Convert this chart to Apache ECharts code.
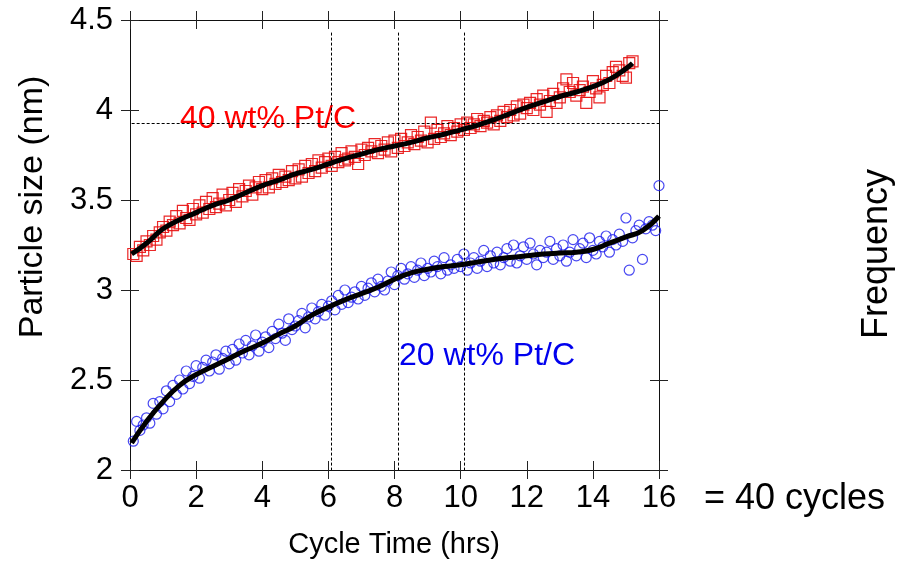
<!DOCTYPE html>
<html>
<head>
<meta charset="utf-8">
<script src="https://cdn.jsdelivr.net/npm/echarts@6/dist/echarts.min.js"></script>
<style>
html,body{margin:0;padding:0;background:#fff;}
#chart{width:897px;height:562px;}
</style>
</head>
<body>
<div id="chart"></div>
<script>
// ---- data ----
const hours = [
 0.1,0.2,0.3,0.4,0.5,0.6,0.7,0.8,0.9,1.0,
 1.1,1.2,1.3,1.4,1.5,1.6,1.7,1.8,1.9,2.0,
 2.1,2.2,2.3,2.4,2.5,2.6,2.7,2.8,2.9,3.0,
 3.1,3.2,3.3,3.4,3.5,3.6,3.7,3.8,3.9,4.0,
 4.1,4.2,4.3,4.4,4.5,4.6,4.7,4.8,4.9,5.0,
 5.1,5.2,5.3,5.4,5.5,5.6,5.7,5.8,5.9,6.0,
 6.1,6.2,6.3,6.4,6.5,6.6,6.7,6.8,6.9,7.0,
 7.1,7.2,7.3,7.4,7.5,7.6,7.7,7.8,7.9,8.0,
 8.1,8.2,8.3,8.4,8.5,8.6,8.7,8.8,8.9,9.0,
 9.1,9.2,9.3,9.4,9.5,9.6,9.7,9.8,9.9,10.0,
 10.1,10.2,10.3,10.4,10.5,10.6,10.7,10.8,10.9,11.0,
 11.1,11.2,11.3,11.4,11.5,11.6,11.7,11.8,11.9,12.0,
 12.1,12.2,12.3,12.4,12.5,12.6,12.7,12.8,12.9,13.0,
 13.1,13.2,13.3,13.4,13.5,13.6,13.7,13.8,13.9,14.0,
 14.1,14.2,14.3,14.4,14.5,14.6,14.7,14.8,14.9,15.0,
 15.1,15.2,15.3,15.4,15.5,15.6,15.7,15.8,15.9,16.0
];
// 40 wt% Pt/C particle size (nm), first 152 time points
const size40 = [
 3.20,3.19,3.24,3.22,3.27,3.25,3.30,3.28,3.32,3.35,
 3.33,3.38,3.36,3.41,3.37,3.44,3.40,3.39,3.45,3.42,
 3.47,3.43,3.49,3.45,3.51,3.46,3.48,3.53,3.47,3.50,
 3.54,3.49,3.56,3.52,3.55,3.58,3.53,3.57,3.60,3.56,
 3.61,3.57,3.62,3.59,3.64,3.60,3.63,3.61,3.66,3.62,
 3.67,3.63,3.69,3.65,3.70,3.66,3.72,3.68,3.71,3.73,
 3.69,3.74,3.71,3.76,3.72,3.73,3.77,3.74,3.70,3.78,
 3.75,3.79,3.77,3.81,3.76,3.80,3.78,3.82,3.77,3.83,
 3.79,3.84,3.80,3.82,3.86,3.81,3.85,3.83,3.88,3.82,
 3.93,3.84,3.89,3.85,3.87,3.91,3.86,3.90,3.88,3.92,
 3.89,3.93,3.90,3.92,3.95,3.91,3.94,3.93,3.96,3.92,
 3.97,3.94,3.99,3.96,4.00,3.97,4.02,3.98,4.03,4.01,
 4.04,4.00,4.06,4.03,4.08,3.99,4.05,4.09,4.04,4.07,
 4.12,4.17,4.10,4.15,4.08,4.11,4.13,4.04,4.10,4.16,
 4.12,4.07,4.14,4.19,4.15,4.21,4.24,4.22,4.19,4.18,
 4.26,4.27
];
// 20 wt% Pt/C particle size (nm), all 160 time points
const size20 = [
 2.16,2.27,2.22,2.25,2.29,2.26,2.37,2.31,2.38,2.34,
 2.44,2.38,2.47,2.42,2.50,2.45,2.55,2.48,2.52,2.58,
 2.51,2.57,2.61,2.55,2.60,2.64,2.56,2.62,2.66,2.59,
 2.67,2.61,2.70,2.65,2.72,2.64,2.69,2.75,2.66,2.71,
 2.74,2.68,2.77,2.73,2.81,2.76,2.72,2.84,2.78,2.80,
 2.83,2.87,2.79,2.85,2.90,2.84,2.88,2.92,2.86,2.91,
 2.94,2.89,2.97,2.92,3.00,2.93,2.96,2.99,2.95,3.02,
 2.97,3.01,3.04,2.99,3.06,3.02,3.00,3.05,3.10,3.03,
 3.08,3.12,3.06,3.09,3.13,3.07,3.11,3.15,3.08,3.12,
 3.10,3.16,3.13,3.09,3.18,3.11,3.14,3.12,3.17,3.13,
 3.20,3.11,3.15,3.18,3.12,3.16,3.22,3.13,3.19,3.15,
 3.21,3.14,3.18,3.23,3.16,3.25,3.15,3.19,3.24,3.17,
 3.26,3.20,3.14,3.22,3.18,3.21,3.27,3.17,3.23,3.19,
 3.25,3.16,3.21,3.28,3.19,3.23,3.26,3.18,3.29,3.22,
 3.20,3.27,3.24,3.30,3.21,3.28,3.25,3.31,3.27,3.40,
 3.11,3.29,3.33,3.36,3.17,3.34,3.38,3.36,3.33,3.58
];
// fitted trend curves
const fitHours40 = [0.05,0.5,1,1.5,2,2.5,3,3.5,4,4.5,5,5.5,6,6.5,7,7.5,8,8.5,9,9.5,10,10.5,11,11.5,12,12.5,13,13.5,14,14.5,15,15.2];
const fit40 = [3.20,3.26,3.34,3.39,3.43,3.47,3.50,3.54,3.58,3.61,3.645,3.67,3.70,3.73,3.755,3.78,3.80,3.82,3.845,3.865,3.89,3.915,3.945,3.98,4.015,4.045,4.075,4.10,4.13,4.17,4.23,4.26];
const fitHours20 = [0.05,0.5,1,1.5,2,2.5,3,3.5,4,4.5,5,5.5,6,6.5,7,7.5,8,8.5,9,9.5,10,10.5,11,11.5,12,12.5,13,13.5,14,14.5,15,15.5,16];
const fit20 = [2.15,2.27,2.38,2.47,2.53,2.575,2.62,2.665,2.705,2.755,2.80,2.86,2.905,2.945,2.98,3.015,3.06,3.095,3.115,3.13,3.14,3.155,3.17,3.18,3.19,3.20,3.205,3.21,3.225,3.26,3.295,3.33,3.41];
// reference lines
const refHours = [6.1, 8.1, 10.1];
const refSize = 3.926;
const xTicks = {min: 0, max: 16, interval: 2};
const yTicks = {min: 2, max: 4.5, interval: 0.5};

// ---- chart ----
const FONT = 'Liberation Sans, Arial, sans-serif';
const chart = echarts.init(document.getElementById('chart'));
const zip = (xs, ys) => ys.map((v, i) => [xs[i], v]);

function xAx(pos, inside, labels){
  return {type:'value', position:pos, min:xTicks.min, max:xTicks.max, interval:xTicks.interval,
    axisLine:{show:true, onZero:false, lineStyle:{color:'#111', width:1}},
    axisTick:{show:true, inside:inside, length:9, lineStyle:{color:'#222', width:1}},
    axisLabel:{show:labels, fontFamily:FONT, fontSize:31, color:'#000', margin:13},
    splitLine:{show:false}};
}
function yAx(pos, inside, labels){
  return {type:'value', position:pos, min:yTicks.min, max:yTicks.max, interval:yTicks.interval,
    axisLine:{show:true, onZero:false, lineStyle:{color:'#111', width:1}},
    axisTick:{show:true, inside:inside, length:9, lineStyle:{color:'#222', width:1}},
    axisLabel:{show:labels, fontFamily:FONT, fontSize:31, color:'#000', margin:17},
    splitLine:{show:false}};
}

const refLines = refHours.map(h => [{coord:[h, 4.43]}, {coord:[h, yTicks.min]}]);
refLines.push([{coord:[0.05, refSize]}, {coord:[16, refSize]}]);

chart.setOption({
  animation:false,
  grid:{left:130, right:238, top:20, bottom:92},
  xAxis:[xAx('bottom', false, true), xAx('bottom', true, false), xAx('top', true, false), xAx('top', false, false)],
  yAxis:[yAx('left', false, true), yAx('left', true, false), yAx('right', true, false), yAx('right', false, false)],
  series:[
    {type:'scatter', name:'40 wt% Pt/C', data:zip(hours, size40), symbol:'rect', symbolSize:11,
     itemStyle:{color:'transparent', borderColor:'#e81010', borderWidth:1.2, opacity:0.9},
     markLine:{silent:true, symbol:['none','none'], label:{show:false},
       lineStyle:{color:'#000', type:[3,2], width:1}, data:refLines}},
    {type:'scatter', name:'20 wt% Pt/C', data:zip(hours, size20), symbol:'circle', symbolSize:10,
     itemStyle:{color:'transparent', borderColor:'#1a1aee', borderWidth:1.2}},
    {type:'line', data:zip(fitHours40, fit40), smooth:true, showSymbol:false,
     lineStyle:{color:'#000', width:5}},
    {type:'line', data:zip(fitHours20, fit20), smooth:true, showSymbol:false,
     lineStyle:{color:'#000', width:5}}
  ],
  graphic:[
    {type:'text', left:180, top:103, style:{text:'40 wt% Pt/C', font:'32px '+FONT, fill:'#ff0000'}},
    {type:'text', left:399, top:340, style:{text:'20 wt% Pt/C', font:'32px '+FONT, fill:'#0000ee'}},
    {type:'text', left:704, top:481, style:{text:'= 40 cycles', font:'36px '+FONT, fill:'#000'}},
    {type:'text', x:394, y:545, style:{text:'Cycle Time (hrs)', font:'29px '+FONT, fill:'#000', align:'center', verticalAlign:'middle'}},
    {type:'text', x:33, y:207, rotation:Math.PI/2, style:{text:'Particle size (nm)', font:'34px '+FONT, fill:'#000', align:'center', verticalAlign:'middle'}},
    {type:'text', x:877, y:254, rotation:Math.PI/2, style:{text:'Frequency', font:'36px '+FONT, fill:'#000', align:'center', verticalAlign:'middle'}}
  ]
});
</script>
</body>
</html>
